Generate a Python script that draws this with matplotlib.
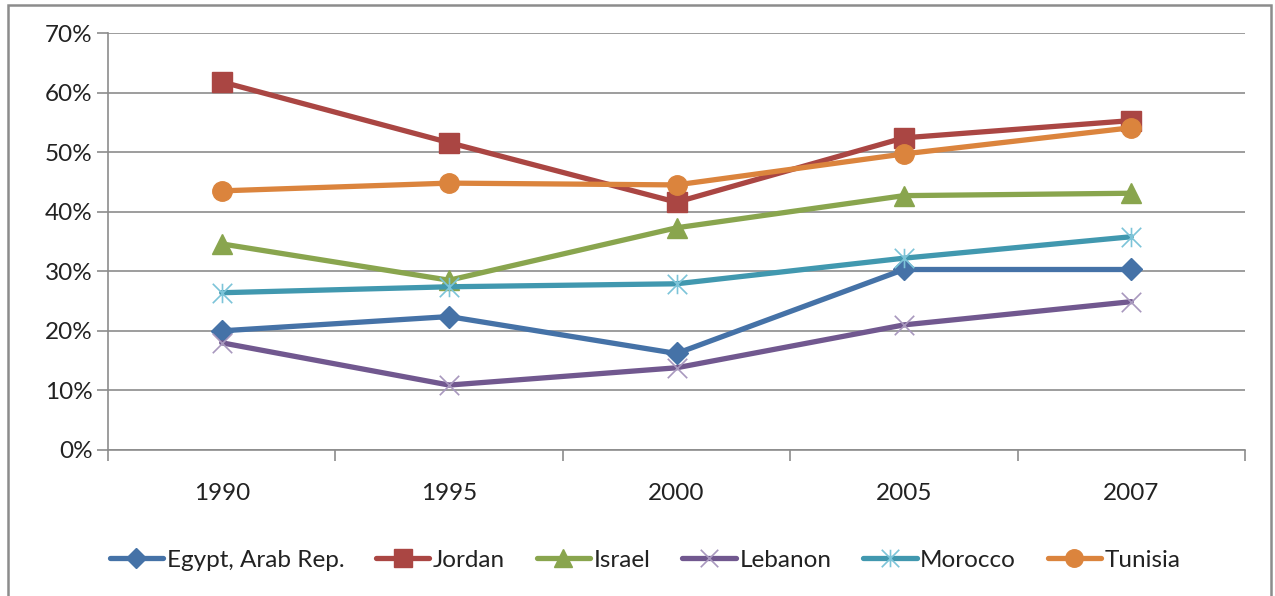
import matplotlib
matplotlib.use("Agg")
import matplotlib.pyplot as plt
from matplotlib.path import Path
from matplotlib.patches import Rectangle
from matplotlib.ticker import PercentFormatter, FixedLocator

years = ["1990", "1995", "2000", "2005", "2007"]
egypt = [20.0, 22.4, 16.2, 30.3, 30.3]
jordan = [61.8, 51.6, 41.6, 52.4, 55.3]
israel = [34.6, 28.5, 37.3, 42.7, 43.1]
lebanon = [18.0, 10.9, 13.8, 21.0, 24.9]
morocco = [26.4, 27.4, 27.9, 32.2, 35.8]
tunisia = [43.5, 44.8, 44.5, 49.7, 54.1]

series_names = ["Egypt, Arab Rep.", "Jordan", "Israel", "Lebanon", "Morocco", "Tunisia"]
series_values = [egypt, jordan, israel, lebanon, morocco, tunisia]

plt.rcParams["font.family"] = ["Lato", "DejaVu Sans"]

# Excel-style star marker: an "x" with a vertical stroke through it
star_path = Path(
    [(-1, -1), (1, 1), (-1, 1), (1, -1), (0, -1), (0, 1)],
    [Path.MOVETO, Path.LINETO, Path.MOVETO, Path.LINETO, Path.MOVETO, Path.LINETO],
)
x_path = Path(
    [(-1, -1), (1, 1), (-1, 1), (1, -1)],
    [Path.MOVETO, Path.LINETO, Path.MOVETO, Path.LINETO],
)

styles = [
    dict(color="#4572A7", marker="D", ms=11, mfc="#4572A7", mec="#4572A7"),
    dict(color="#AA4643", marker="s", ms=14, mfc="#AA4643", mec="#AA4643"),
    dict(color="#89A54E", marker="^", ms=14, mfc="#89A54E", mec="#89A54E"),
    dict(color="#71588F", marker=x_path, ms=14, mfc="none", mec="#A898BE", mew=1.2),
    dict(color="#4198AF", marker=star_path, ms=14, mfc="none", mec="#7CC4D8", mew=1.2),
    dict(color="#DB843D", marker="o", ms=14, mfc="#DB843D", mec="#DB843D"),
]

fs = 17.5

fig = plt.figure(figsize=(12.75, 5.96), dpi=100)
ax = fig.add_axes([108 / 1275, 1 - 450 / 596, (1245 - 108) / 1275, (450 - 33) / 596])

xs = list(range(len(years)))
for name, vals, st in zip(series_names, series_values, styles):
    ax.plot(xs, vals, lw=3.8, label=name, solid_capstyle="round", **st)

ax.set_xlim(-0.5, len(years) - 0.5)
ax.set_ylim(0, 70)
ax.set_yticks(range(0, 71, 10))
ax.yaxis.set_major_formatter(PercentFormatter(decimals=0))
ax.set_xticks(xs)
ax.set_xticklabels(years)
ax.xaxis.set_minor_locator(FixedLocator([i - 0.5 for i in range(len(years) + 1)]))

grid_c = "#8C8C8C"
ax.grid(axis="y", color=grid_c, lw=1.2)
ax.set_axisbelow(True)
for s in ["top", "right"]:
    ax.spines[s].set_visible(False)
for s in ["left", "bottom"]:
    ax.spines[s].set_color(grid_c)
    ax.spines[s].set_linewidth(1.2)

ax.tick_params(axis="y", length=8, width=1.2, color=grid_c, labelsize=fs, pad=3, labelcolor="#222222")
ax.tick_params(axis="x", which="major", length=0, labelsize=fs, pad=24, labelcolor="#222222")
ax.tick_params(axis="x", which="minor", length=8, width=1.2, color=grid_c)

leg = fig.legend(
    loc="center",
    bbox_to_anchor=(0.506, 0.06),
    ncol=6,
    frameon=False,
    fontsize=fs,
    handlelength=2.2,
    handletextpad=0.15,
    columnspacing=1.3,
    markerscale=0.9,
)
for t in leg.get_texts():
    t.set_color("#222222")

fig.patches.append(
    Rectangle((8 / 1275, -0.05), (1271 - 8) / 1275, 1.05 - 5 / 596,
              transform=fig.transFigure, fill=False, ec="#8C8C8C", lw=1.8)
)

fig.savefig("out.png", dpi=100, facecolor="white")
